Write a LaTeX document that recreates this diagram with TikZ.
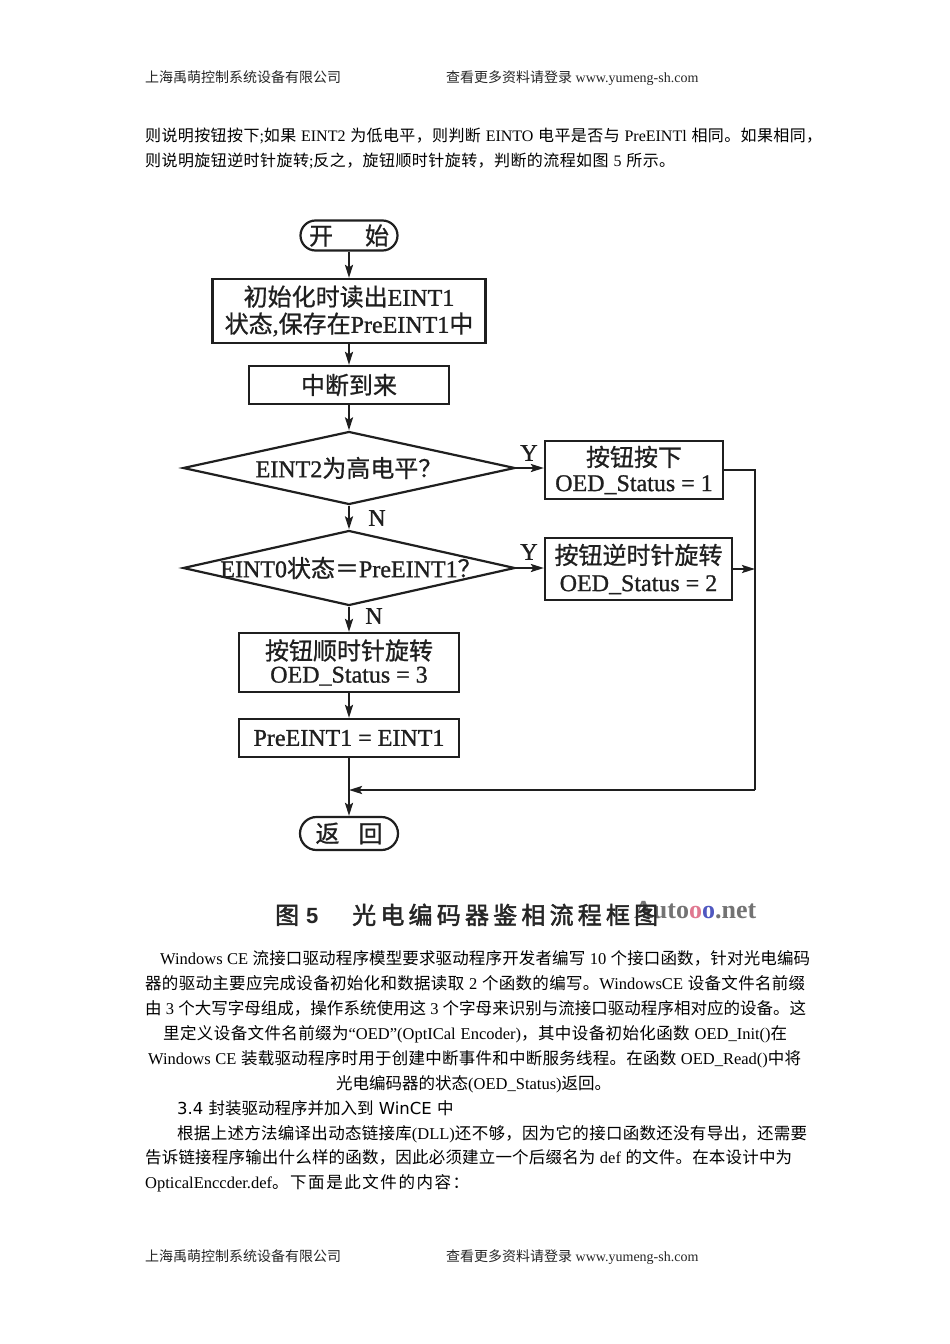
\documentclass[tikz,border=0pt]{standalone}
\usepackage{fontspec}
\setmainfont{Liberation Serif}
\newfontfamily\cjkfont{Noto Sans CJK SC}
\newfontfamily\cjkbfont{Noto Sans CJK SC}[FakeBold=2]
\newfontfamily\fccjk{Noto Sans CJK SC}[FakeBold=0.8]
\newfontfamily\fcserif{Liberation Serif}[FakeBold=1]
\newfontfamily\dvsans{DejaVu Sans}
\newfontfamily\lsans{Liberation Sans}
\usetikzlibrary{shapes.geometric,arrows.meta}

\XeTeXinterchartokenstate=1
\newXeTeXintercharclass\CJKcls
\newcount\cjkcnt
\newcommand\setcjkrange[2]{%
  \cjkcnt=#1\relax
  \loop
    \XeTeXcharclass\cjkcnt=\CJKcls
    \advance\cjkcnt by 1\relax
  \ifnum\cjkcnt<#2\relax
  \repeat}
\setcjkrange{"4E00}{"A000}
\setcjkrange{"3000}{"3040}
\setcjkrange{"FF00}{"FFF0}
\XeTeXcharclass"201C=0
\XeTeXcharclass"201D=0
\def\curcjk{\cjkfont}
\def\curlatin{\rmfamily}
\XeTeXinterchartoks 0 \CJKcls = {\curcjk}
\XeTeXinterchartoks 4095 \CJKcls = {\curcjk}
\XeTeXinterchartoks \CJKcls 0 = {\curlatin}
\XeTeXinterchartoks \CJKcls 4095 = {\curlatin}
\XeTeXinterchartoks \CJKcls \CJKcls = {\hskip 0pt plus 1pt\relax}

\newcommand\fcsel{\def\curcjk{\fccjk}\def\curlatin{\fcserif}\fcserif}
\newcommand\fcfont{\fontsize{24}{25}\selectfont\fcsel}
\newcommand\topfont{\fontsize{16}{20}\selectfont}
\newcommand\lowfont{\fontsize{16.5}{20}\selectfont}
\newcommand\hdrfont{\fontsize{14}{18}\selectfont}
\newcommand\jl[2]{\hbox to #1pt{#2}}

\begin{document}
\begin{tikzpicture}[x=1pt,y=-1pt,
  line/.style={draw=black!88, line width=2.2pt},
  arr/.style={line, -{Stealth[length=13pt,width=8pt,inset=2.5pt]}},
  box/.style={draw=black!88, line width=2.2pt, inner sep=0pt, align=center, font=\fcfont, text=black!88},
  term/.style={box},
  dia/.style={draw=black!88, line width=2.2pt, diamond, inner sep=0pt},
  fctext/.style={inner sep=0pt, font=\fcfont, text=black!88},
  lab/.style={inner sep=0pt, font=\fcfont, text=black!88},
  top/.style={anchor=base west, inner sep=0pt, font=\topfont},
  low/.style={anchor=base west, inner sep=0pt, font=\lowfont},
  hdr/.style={anchor=base west, inner sep=0pt, font=\hdrfont, text=black!85},
]
\fill[white] (0,0) rectangle (950,1344);
\useasboundingbox (0,0) rectangle (950,1344);

% header / footer
\node[hdr] (h1) at (145,82) {上海禹萌控制系统设备有限公司};
\node[hdr] (h2) at (446,82) {查看更多资料请登录 www.yumeng-sh.com};
\node[hdr] (f1) at (145,1261) {上海禹萌控制系统设备有限公司};
\node[hdr] (f2) at (446,1261) {查看更多资料请登录 www.yumeng-sh.com};

% top paragraph
\node[top] (t1) at (145,141) {\jl{677}{则说明按钮按下;如果 EINT2 为低电平，则判断 EINTO 电平是否与 PreEINTl 相同。如果相同，}};
\node[top] (t2) at (145,166) {\jl{530}{则说明旋钮逆时针旋转;反之，旋钮顺时针旋转，判断的流程如图 5 所示。}};

% flowchart
\node[term, rounded corners=15pt, minimum width=97pt, minimum height=30pt] (start) at (349,235.5) {开\hspace{32pt}始};
\node[box, minimum width=273pt, minimum height=64pt, font=\fontsize{24}{27}\selectfont\fcsel] (b1) at (349,311) {初始化时读出EINT1\\状态,保存在PreEINT1中};
\node[box, minimum width=200pt, minimum height=38pt] (b2) at (349,385) {中断到来};
\node[dia, minimum width=332pt, minimum height=73pt] (d1) at (349,468) {};
\node[fctext] (d1t) at (d1.center) {EINT2为高电平？};
\node[box, minimum width=178pt, minimum height=58pt] (y1) at (634,470) {按钮按下\\OED\_Status = 1};
\node[dia, minimum width=332pt, minimum height=75pt] (d2) at (349,568) {};
\node[fctext] (d2t) at (351,568) {EINT0状态＝PreEINT1？};
\node[box, minimum width=187pt, minimum height=62pt, font=\fontsize{24}{27}\selectfont\fcsel] (y2) at (638.5,569) {按钮逆时针旋转\\OED\_Status = 2};
\node[box, minimum width=220pt, minimum height=59pt, font=\fontsize{24}{23}\selectfont\fcsel] (b3) at (349,662.5) {按钮顺时针旋转\\OED\_Status = 3};
\node[box, minimum width=220pt, minimum height=38pt] (b4) at (349,738) {PreEINT1 = EINT1};
\node[term, rounded corners=16.5pt, minimum width=98pt, minimum height=33pt] (end) at (349,833.5) {返\hspace{19pt}回};

\node[lab] (ly1) at (529,453) {Y};
\node[lab] (ly2) at (529,552) {Y};
\node[lab] (ln1) at (377,518) {N};
\node[lab] (ln2) at (374,616) {N};

\coordinate (rx) at (755,0);
\coordinate (rtop) at (y1.east -| rx);
\coordinate (rbot) at (755,790);
\coordinate (mj) at (349,790);

\draw[arr] (start) -- (b1);
\draw[arr] (b1) -- (b2);
\draw[arr] (b2) -- (d1);
\draw[arr] (d1) -- (d2);
\draw[arr] (d2) -- (b3);
\draw[arr] (b3) -- (b4);
\draw[arr] (b4) -- (end);
\draw[arr] (d1.east) -- (d1.east -| y1.west);
\draw[arr] (d2.east) -- (d2.east -| y2.west);
\draw[line] (y1.east) -- (rtop) -- (rbot);
\draw[arr] (rbot) -- (mj);
\draw[arr] (y2.east) -- (y2.east -| rx);

% caption with watermark
\node[anchor=base west, inner sep=0pt, font=\fontsize{26}{30}\selectfont\bfseries, text=black!55] (wm) at (634,918)
  {Auto\textcolor[HTML]{E07890}{o}\textcolor[HTML]{5058C0}{o}.net};
\node[anchor=base west, inner sep=0pt, font=\fontsize{24}{28}\selectfont, text=black!85] (c1) at (275,924) {\def\curcjk{\cjkbfont}图};
\node[anchor=base west, inner sep=0pt, font=\fontsize{22}{26}\selectfont\lsans\bfseries, text=black!85] (c2) at (306,923) {5};
\node[anchor=base west, inner sep=0pt, font=\fontsize{24}{28}\selectfont, text=black!85] (c3) at (352,924) {\def\curcjk{\cjkbfont}\jl{306}{光电编码器鉴相流程框图}};

% lower paragraph
\node[low] (p1) at (160,964) {\jl{650}{Windows CE 流接口驱动程序模型要求驱动程序开发者编写 10 个接口函数，针对光电编码}};
\node[low] (p2) at (145,989) {\jl{660}{器的驱动主要应完成设备初始化和数据读取 2 个函数的编写。WindowsCE 设备文件名前缀}};
\node[low] (p3) at (145,1014) {\jl{661}{由 3 个大写字母组成，操作系统使用这 3 个字母来识别与流接口驱动程序相对应的设备。这}};
\node[low] (p4) at (163,1039) {\jl{624}{里定义设备文件名前缀为“OED”(OptICal Encoder)，其中设备初始化函数 OED\_Init()在}};
\node[low] (p5) at (148,1064) {\jl{653}{Windows CE 装载驱动程序时用于创建中断事件和中断服务线程。在函数 OED\_Read()中将}};
\node[low] (p6) at (336,1089) {\jl{273}{光电编码器的状态(OED\_Status)返回。}};

\node[low] (s1) at (177,1114) {\def\curlatin{\dvsans}\dvsans 3.4 封装驱动程序并加入到 WinCE 中};
\node[low] (q1) at (177,1139) {\jl{630}{根据上述方法编译出动态链接库(DLL)还不够，因为它的接口函数还没有导出，还需要}};
\node[low] (q2) at (145,1163) {\jl{647}{告诉链接程序输出什么样的函数，因此必须建立一个后缀名为 def 的文件。在本设计中为}};
\node[low] (q3) at (145,1188) {\jl{324}{OpticalEnccder.def。下面是此文件的内容：}};
\end{tikzpicture}
\end{document}
